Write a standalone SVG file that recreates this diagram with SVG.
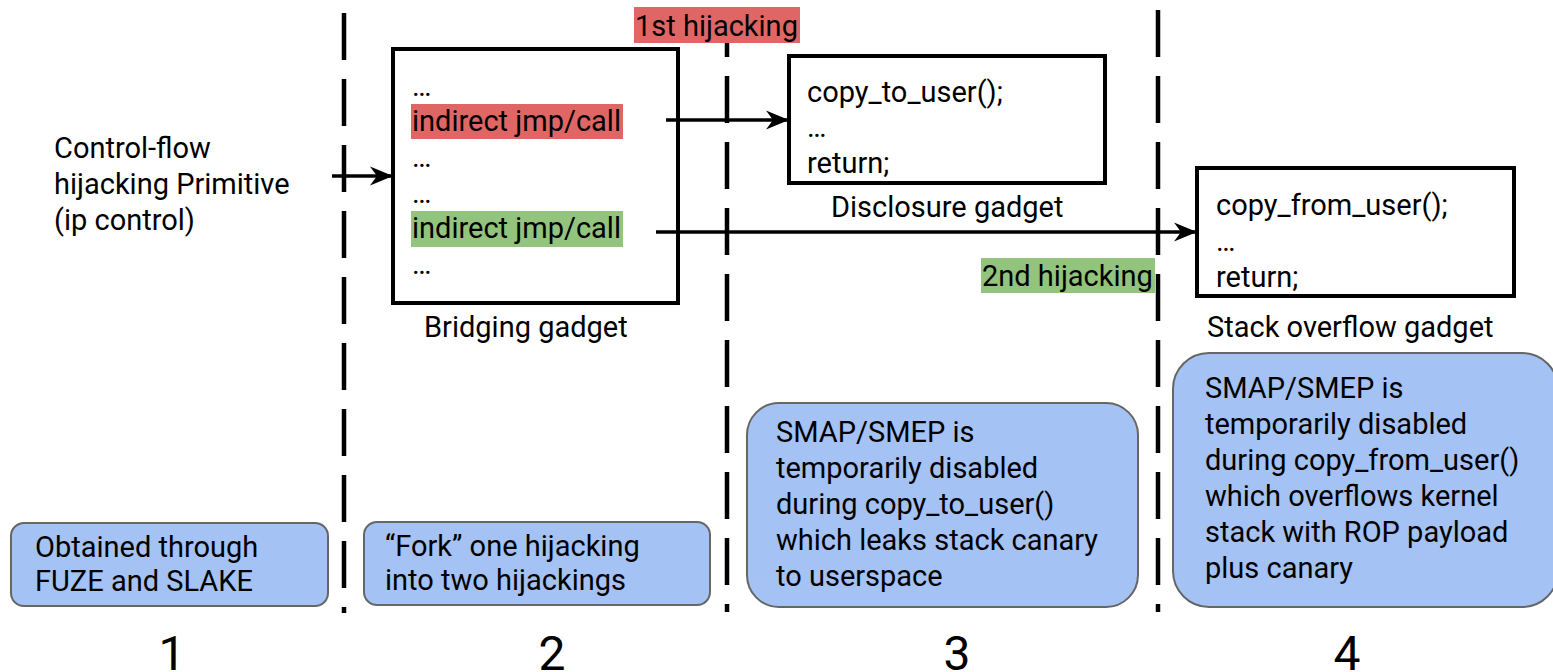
<svg xmlns="http://www.w3.org/2000/svg" width="1553" height="672" viewBox="0 0 1553 672">
  <style>
    text { font-family: Roboto, "Liberation Sans", sans-serif; font-size: 29px; fill: #000; }
    .num { font-size: 48px; text-anchor: middle; }
    .divider { stroke: #000; stroke-width: 4.5; stroke-dasharray: 47 19; fill: none; }
    .gadget { fill: #fff; stroke: #000; stroke-width: 4; }
    .note { fill: #a4c2f4; stroke: #666; stroke-width: 2; }
    .red { fill: #e06666; }
    .green { fill: #93c47d; }
    .conn { stroke: #000; stroke-width: 3.5; fill: none; marker-end: url(#head); }
  </style>
  <defs>
    <marker id="head" viewBox="0 0 24 20" refX="23" refY="10" markerWidth="24" markerHeight="20" markerUnits="userSpaceOnUse" orient="auto">
      <path d="M23,10 L0,0.5 L7,10 L0,19.5 Z" fill="#000"/>
    </marker>
  </defs>

  <!-- stage dividers -->
  <g id="dividers">
    <line class="divider" x1="344" y1="13" x2="344" y2="613"/>
    <line class="divider" x1="727" y1="10" x2="727" y2="612"/>
    <line class="divider" x1="1158" y1="10" x2="1158" y2="612"/>
  </g>

  <!-- stage 1 -->
  <g id="primitive">
    <text x="54" y="158">Control-flow</text>
    <text x="54" y="194">hijacking Primitive</text>
    <text x="54" y="230">(ip control)</text>
  </g>

  <!-- bridging gadget -->
  <g id="bridging">
    <rect class="gadget" x="393" y="49" width="285" height="254"/>
    <rect class="red" x="411" y="104" width="212" height="35"/>
    <rect class="green" x="411" y="211" width="212" height="36"/>
    <text x="412" y="96">…</text>
    <text x="412" y="131">indirect jmp/call</text>
    <text x="412" y="167">…</text>
    <text x="412" y="203">…</text>
    <text x="412" y="238">indirect jmp/call</text>
    <text x="412" y="274">…</text>
    <text x="424" y="337">Bridging gadget</text>
  </g>

  <!-- disclosure gadget -->
  <g id="disclosure">
    <rect class="gadget" x="789" y="56" width="316" height="127"/>
    <text x="807" y="102">copy_to_user();</text>
    <text x="807" y="137">…</text>
    <text x="807" y="173">return;</text>
    <text x="831" y="217">Disclosure gadget</text>
  </g>

  <!-- stack overflow gadget -->
  <g id="overflow">
    <rect class="gadget" x="1197" y="168" width="317" height="128"/>
    <text x="1216" y="215">copy_from_user();</text>
    <text x="1216" y="251">…</text>
    <text x="1216" y="287">return;</text>
    <text x="1207" y="337">Stack overflow gadget</text>
  </g>

  <!-- hijacking labels -->
  <g id="label-first">
    <rect class="red" x="634" y="7" width="166" height="36"/>
    <text x="635" y="36">1st hijacking</text>
  </g>
  <g id="label-second">
    <rect class="green" x="981" y="258" width="174" height="35"/>
    <text x="982" y="286">2nd hijacking</text>
  </g>

  <!-- connectors -->
  <g id="connectors">
    <line class="conn" x1="332" y1="176" x2="393" y2="176"/>
    <line class="conn" x1="666" y1="120" x2="789" y2="120"/>
    <line class="conn" x1="656" y1="232" x2="1197" y2="232"/>
  </g>

  <!-- notes -->
  <g id="note-1">
    <rect class="note" x="11" y="523" width="317" height="83" rx="13"/>
    <text x="35" y="557">Obtained through</text>
    <text x="35" y="591">FUZE and SLAKE</text>
  </g>
  <g id="note-2">
    <rect class="note" x="364" y="522" width="346" height="83" rx="13"/>
    <text x="385" y="556">“Fork” one hijacking</text>
    <text x="385" y="590">into two hijackings</text>
  </g>
  <g id="note-3">
    <rect class="note" x="747" y="403" width="391" height="204" rx="32"/>
    <text x="776" y="442">SMAP/SMEP is</text>
    <text x="776" y="478">temporarily disabled</text>
    <text x="776" y="514">during copy_to_user()</text>
    <text x="776" y="550">which leaks stack canary</text>
    <text x="776" y="586">to userspace</text>
  </g>
  <g id="note-4">
    <rect class="note" x="1173" y="353" width="385" height="254" rx="36"/>
    <text x="1205" y="398">SMAP/SMEP is</text>
    <text x="1205" y="434">temporarily disabled</text>
    <text x="1205" y="470">during copy_from_user()</text>
    <text x="1205" y="506">which overflows kernel</text>
    <text x="1205" y="542">stack with ROP payload</text>
    <text x="1205" y="578">plus canary</text>
  </g>

  <!-- stage numbers -->
  <g id="stage-numbers">
    <text class="num" x="172" y="670">1</text>
    <text class="num" x="552" y="670">2</text>
    <text class="num" x="957" y="670">3</text>
    <text class="num" x="1347" y="670">4</text>
  </g>
</svg>
